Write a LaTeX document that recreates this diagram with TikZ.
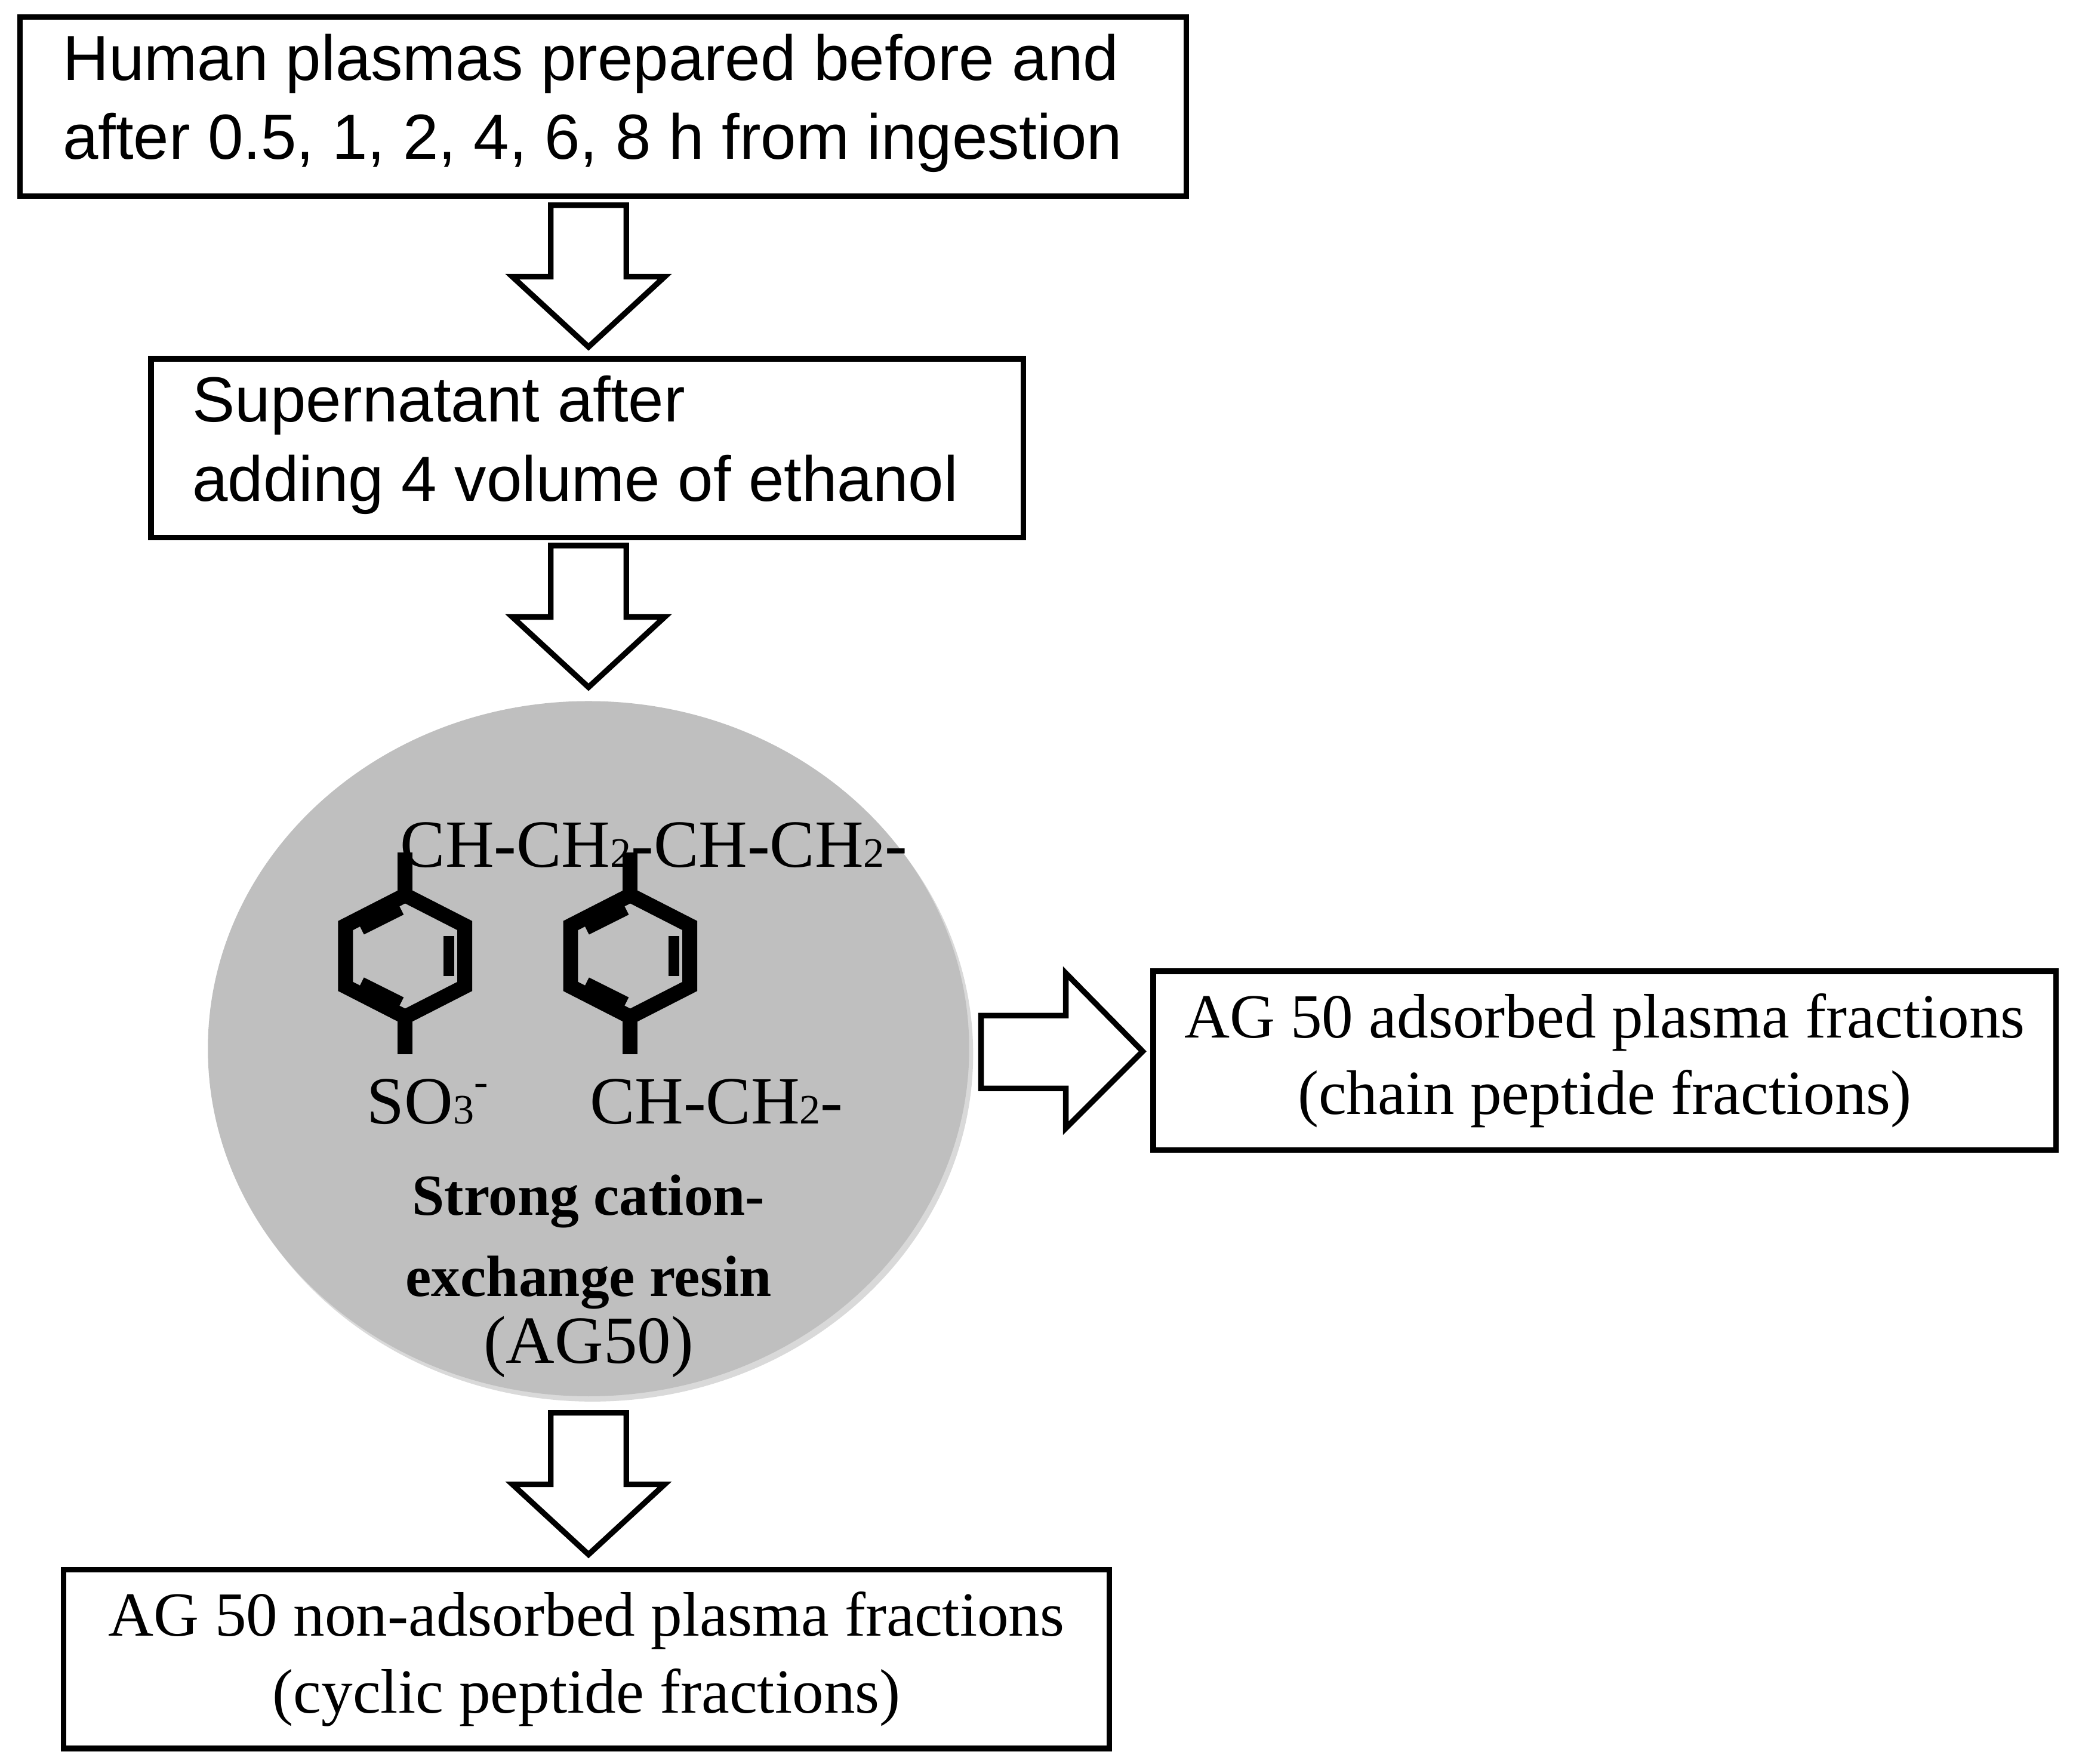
\documentclass[tikz,border=0pt]{standalone}
\usepackage{fontspec}
\setmainfont{Liberation Serif}
\newfontfamily\boxsans{Liberation Sans}
\usetikzlibrary{shadows,shapes.geometric}
\tikzset{
    stepbox/.style={draw, line width=1.2pt, minimum height=1.35cm, inner sep=0pt},
    hollow/.style={draw, line width=1.2pt, fill=white, line join=miter},
    ring/.style={line width=3.2pt, line join=miter},
}
\begin{document}
\begin{tikzpicture}[font=\fontsize{13.5}{16.5}\selectfont]
    \useasboundingbox (0,0) rectangle (15.68,-13.32);
    % boxes
    \node[stepbox, minimum width=8.81cm] (plasma) at (4.555,-0.805) {};
    \node[anchor=west, align=left, font=\boxsans\fontsize{13.7}{17}\selectfont] at (0.35,-0.78)
        {Human plasmas prepared before and\\after 0.5, 1, 2, 4, 6, 8 h from ingestion};
    \node[stepbox, minimum width=6.59cm] (super) at (4.435,-3.385) {};
    \node[anchor=west, align=left, font=\boxsans\fontsize{13.7}{17}\selectfont] at (1.33,-3.36)
        {Supernatant after\\adding 4 volume of ethanol};
    \node[stepbox, minimum width=6.82cm, align=center] (adsorbed) at (12.12,-8.01)
        {AG 50 adsorbed plasma fractions\\(chain peptide fractions)};
    \node[stepbox, minimum width=7.9cm, align=center] (nonads) at (4.43,-12.53)
        {AG 50 non-adsorbed plasma fractions\\(cyclic peptide fractions)};
    % resin
    \node[ellipse, minimum width=5.75cm, minimum height=5.25cm, fill=black!25,
        drop shadow={shadow xshift=0.03cm, shadow yshift=-0.04cm, opacity=0.3}] (resin) at (4.445,-7.92) {};
    \node[anchor=west, font=\fontsize{14.5}{17}\selectfont] (chain) at (2.9,-6.38)
        {CH-CH{\fontsize{9}{9}\selectfont 2}-CH-CH{\fontsize{9}{9}\selectfont 2}-};
    \node[font=\fontsize{14.5}{17}\selectfont] (sulfo) at (3.23,-8.32)
        {SO{\fontsize{9}{9}\selectfont 3}\raisebox{0.9ex}{\fontsize{9}{9}\selectfont -}};
    \node[anchor=west, font=\fontsize{14.5}{17}\selectfont] (link) at (4.33,-8.32)
        {CH-CH{\fontsize{9}{9}\selectfont 2}-};
    \node[align=center, font=\bfseries\fontsize{12.5}{17.5}\selectfont] (label) at (4.445,-9.38)
        {Strong cation-\\exchange resin};
    \node[font=\fontsize{14.5}{17}\selectfont] (ag) at (4.445,-10.17) {(AG50)};
    % benzene rings
    \foreach \cx/\name in {3.06/one, 4.76/two} {
        \begin{scope}[shift={(\cx,-7.22)}]
            \draw[ring] (0,0.46) -- (0.45,0.23) -- (0.45,-0.23) -- (0,-0.46)
                -- (-0.45,-0.23) -- (-0.45,0.23) -- cycle;
            \draw[line width=2.4pt] (0.33,0.15) -- (0.33,-0.15);
            \draw[line width=2.4pt] (-0.03,0.35) -- (-0.33,0.2);
            \draw[line width=2.4pt] (-0.03,-0.35) -- (-0.33,-0.2);
            \draw[line width=3.2pt] (0,0.46) -- (0,0.78);
            \draw[line width=3.2pt] (0,-0.46) -- (0,-0.74);
        \end{scope}
    }
    % block arrows
    \foreach \ty in {-1.55,-4.12,-10.67} {
        \draw[hollow] (4.16,\ty) -- (4.73,\ty) -- (4.73,\ty-0.54) -- (5.02,\ty-0.54)
            -- (4.445,\ty-1.07) -- (3.87,\ty-0.54) -- (4.16,\ty-0.54) -- cycle;
    }
    \draw[hollow] (7.41,-7.67) -- (8.05,-7.67) -- (8.05,-7.35) -- (8.63,-7.94)
        -- (8.05,-8.52) -- (8.05,-8.22) -- (7.41,-8.22) -- cycle;
\end{tikzpicture}
\end{document}
